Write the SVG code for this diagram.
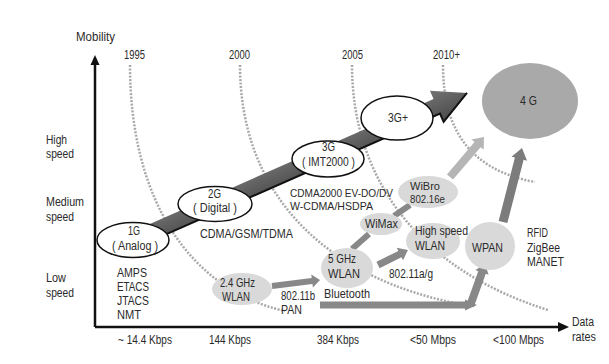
<svg xmlns="http://www.w3.org/2000/svg" width="609" height="364" viewBox="0 0 609 364">
<style>
text{font-family:"Liberation Sans",Arial,sans-serif;font-size:12.5px;fill:#2a2a2a}
.s{font-size:11px}
.m{font-size:11.5px}
.arc{fill:none;stroke:#a9a9a9;stroke-width:2.5;stroke-dasharray:2 1.5}
.axis{stroke:#111;stroke-width:2.5;fill:none}
.gen{fill:#fff;stroke:#111;stroke-width:1.5}
.tech{fill:#d9d9d9}
.bar{stroke:#888;stroke-width:6;fill:none}
.ga{fill:#888}
</style>
<defs>
<linearGradient id="bandg" x1="0" y1="0" x2="0" y2="1">
<stop offset="0" stop-color="#747474"/>
<stop offset="1" stop-color="#4a4a4a"/>
</linearGradient>
</defs>
<rect width="609" height="364" fill="#fff"/>
<g id="time-arcs">
<path class="arc" d="M130,65 C130,200 190,290 285,311"/>
<path class="arc" d="M240,65 C240,190 320,280 470,306"/>
<path class="arc" d="M352,65 C352,180 420,270 548,310"/>
<path class="arc" d="M443,65 C443,130 470,170 535,182"/>
</g>
<g id="axes">
<path class="axis" d="M95,327 V64 M95,327 H560"/>
<polygon points="95,55 90.5,65 99.5,65" fill="#111"/>
<polygon points="569,327 558,322 558,332" fill="#111"/>
<text x="76" y="41" textLength="39" lengthAdjust="spacingAndGlyphs">Mobility</text>
<text x="124" y="59" textLength="21" lengthAdjust="spacingAndGlyphs">1995</text>
<text x="229" y="59" textLength="21" lengthAdjust="spacingAndGlyphs">2000</text>
<text x="342" y="59" textLength="21" lengthAdjust="spacingAndGlyphs">2005</text>
<text x="433" y="59" textLength="27" lengthAdjust="spacingAndGlyphs">2010+</text>
<text x="46" y="144" textLength="21" lengthAdjust="spacingAndGlyphs">High</text>
<text x="46" y="158" textLength="28" lengthAdjust="spacingAndGlyphs">speed</text>
<text x="46" y="206" textLength="38" lengthAdjust="spacingAndGlyphs">Medium</text>
<text x="46" y="221" textLength="28" lengthAdjust="spacingAndGlyphs">speed</text>
<text x="46" y="282" textLength="20" lengthAdjust="spacingAndGlyphs">Low</text>
<text x="46" y="297" textLength="28" lengthAdjust="spacingAndGlyphs">speed</text>
<text x="118" y="344" textLength="54" lengthAdjust="spacingAndGlyphs">~ 14.4 Kbps</text>
<text x="209" y="344" textLength="42" lengthAdjust="spacingAndGlyphs">144 Kbps</text>
<text x="317" y="344" textLength="42" lengthAdjust="spacingAndGlyphs">384 Kbps</text>
<text x="410" y="344" textLength="46" lengthAdjust="spacingAndGlyphs">&lt;50 Mbps</text>
<text x="493" y="344" textLength="51" lengthAdjust="spacingAndGlyphs">&lt;100 Mbps</text>
<text x="572" y="326" textLength="22" lengthAdjust="spacingAndGlyphs">Data</text>
<text x="572" y="341" textLength="24" lengthAdjust="spacingAndGlyphs">rates</text>
</g>
<g id="connectors">
<g transform="translate(140,237) rotate(-23.77)">
<polygon points="0,-8 324.3,-8 324.3,-17 357.3,0 324.3,17 324.3,8 0,8" fill="url(#bandg)"/>
<polyline points="0,8 324.3,8 324.3,17 357.3,0" fill="none" stroke="#111" stroke-width="2"/>
</g>
<polygon class="ga" transform="translate(272,286) rotate(-7.1)" points="0,-3 40.4,-3 40.4,-6.5 48.4,0 40.4,6.5 40.4,3 0,3"/>
<polygon class="ga" transform="translate(378,265) rotate(-26.6)" points="0,-3.5 24.5,-3.5 24.5,-7 33.5,0 24.5,7 24.5,3.5 0,3.5"/>
<line class="bar" x1="352" y1="249" x2="369" y2="234"/>
<line class="bar" x1="394" y1="216" x2="410" y2="205"/>
<polygon fill="#b5b5b5" transform="translate(450,177) rotate(-49.6)" points="0,-4 42.5,-4 42.5,-8 52.5,0 42.5,8 42.5,4 0,4"/>
<polygon class="ga" points="320,301.5 465,301.5 465,299.5 477,305 465,310.5 465,308.5 320,308.5"/>
<polygon class="ga" transform="translate(470,306) rotate(-70.3)" points="0,-4 35.6,-4 35.6,-7 44.6,0 35.6,7 35.6,4 0,4"/>
<polygon fill="#7c7c7c" transform="translate(503,222) rotate(-75.6)" points="0,-4.5 65.4,-4.5 65.4,-8 76.4,0 65.4,8 65.4,4.5 0,4.5"/>
</g>
<g id="n1g">
<ellipse class="gen" cx="133" cy="240" rx="36" ry="17.5"/>
<text x="128" y="235" textLength="12" lengthAdjust="spacingAndGlyphs">1G</text>
<text x="112" y="250" textLength="46" lengthAdjust="spacingAndGlyphs">( Analog )</text>
</g>
<g id="n2g">
<ellipse class="gen" cx="215" cy="204" rx="37" ry="17.5"/>
<text x="208" y="198" textLength="13" lengthAdjust="spacingAndGlyphs">2G</text>
<text x="193" y="212" textLength="44" lengthAdjust="spacingAndGlyphs">( Digital )</text>
</g>
<g id="n3g">
<ellipse class="gen" cx="328" cy="159" rx="36" ry="18"/>
<text x="322" y="151" textLength="13" lengthAdjust="spacingAndGlyphs">3G</text>
<text x="302" y="166" textLength="53" lengthAdjust="spacingAndGlyphs">( IMT2000 )</text>
</g>
<g id="n3gplus">
<ellipse class="gen" cx="397" cy="118" rx="36" ry="22"/>
<text x="388" y="122" textLength="20" lengthAdjust="spacingAndGlyphs">3G+</text>
</g>
<g id="n4g">
<ellipse cx="530" cy="101" rx="48" ry="38" fill="#a9a9a9"/>
<text x="520" y="105" textLength="17" lengthAdjust="spacingAndGlyphs">4 G</text>
</g>
<g id="labels-1g">
<text x="117" y="277" textLength="30" lengthAdjust="spacingAndGlyphs">AMPS</text>
<text x="117" y="291" textLength="32" lengthAdjust="spacingAndGlyphs">ETACS</text>
<text x="117" y="305" textLength="32" lengthAdjust="spacingAndGlyphs">JTACS</text>
<text x="117" y="319" textLength="24" lengthAdjust="spacingAndGlyphs">NMT</text>
</g>
<g id="labels-2g"><text x="200" y="238" textLength="93" lengthAdjust="spacingAndGlyphs">CDMA/GSM/TDMA</text></g>
<g id="labels-3g">
<text class="m" x="290" y="197" textLength="103" lengthAdjust="spacingAndGlyphs">CDMA2000 EV-DO/DV</text>
<text class="m" x="290" y="210" textLength="83" lengthAdjust="spacingAndGlyphs">W-CDMA/HSDPA</text>
</g>
<g id="wlan24">
<ellipse class="tech" cx="242" cy="289" rx="30" ry="16"/>
<text x="220" y="287" textLength="35" lengthAdjust="spacingAndGlyphs">2.4 GHz</text>
<text x="222" y="301" textLength="28" lengthAdjust="spacingAndGlyphs">WLAN</text>
</g>
<g id="label-pan">
<text x="281" y="300" textLength="34" lengthAdjust="spacingAndGlyphs">802.11b</text>
<text x="281" y="314" textLength="21" lengthAdjust="spacingAndGlyphs">PAN</text>
</g>
<g id="wlan5">
<ellipse class="tech" cx="347" cy="268" rx="26" ry="20"/>
<text x="328" y="263" textLength="28" lengthAdjust="spacingAndGlyphs">5 GHz</text>
<text x="328" y="278" textLength="32" lengthAdjust="spacingAndGlyphs">WLAN</text>
</g>
<g id="label-bt"><text x="324" y="298" textLength="46" lengthAdjust="spacingAndGlyphs">Bluetooth</text></g>
<g id="wimax">
<ellipse class="tech" cx="381" cy="224" rx="21" ry="11"/>
<text x="365" y="228" textLength="33" lengthAdjust="spacingAndGlyphs">WiMax</text>
</g>
<g id="wibro">
<ellipse class="tech" cx="428" cy="192" rx="30" ry="16"/>
<text class="s" x="410" y="190" textLength="30" lengthAdjust="spacingAndGlyphs">WiBro</text>
<text class="s" x="410" y="203" textLength="35" lengthAdjust="spacingAndGlyphs">802.16e</text>
</g>
<g id="hswlan">
<ellipse class="tech" cx="433" cy="241" rx="27" ry="18"/>
<text x="415" y="235" textLength="53" lengthAdjust="spacingAndGlyphs">High speed</text>
<text x="415" y="250" textLength="30" lengthAdjust="spacingAndGlyphs">WLAN</text>
</g>
<g id="label-11ag"><text x="389" y="278" textLength="44" lengthAdjust="spacingAndGlyphs">802.11a/g</text></g>
<g id="wpan">
<ellipse class="tech" cx="490" cy="246" rx="25" ry="24"/>
<text x="472" y="252" textLength="31" lengthAdjust="spacingAndGlyphs">WPAN</text>
</g>
<g id="label-wpan">
<text x="527" y="237" textLength="21" lengthAdjust="spacingAndGlyphs">RFID</text>
<text x="527" y="252" textLength="33" lengthAdjust="spacingAndGlyphs">ZigBee</text>
<text x="527" y="266" textLength="37" lengthAdjust="spacingAndGlyphs">MANET</text>
</g>
</svg>
